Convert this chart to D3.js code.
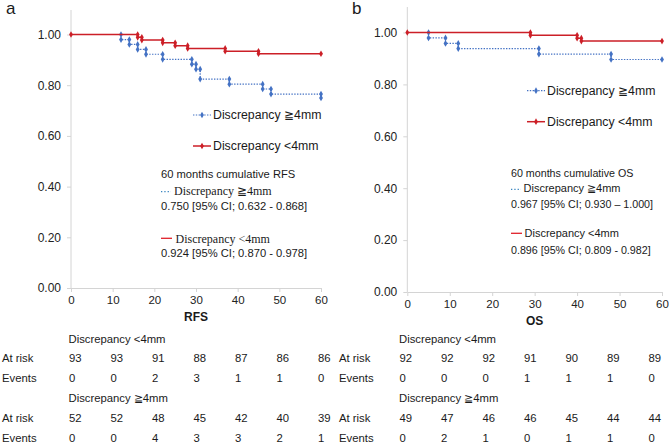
<!DOCTYPE html>
<html lang="en">
<head>
<meta charset="UTF-8">
<title>Kaplan-Meier RFS / OS</title>
<script src="https://d3js.org/d3.v7.min.js"></script>
<style>
  body { margin: 0; background: #fff; }
  svg { display: block; font-family: "Liberation Sans", Arial, sans-serif; }
  .axis path, .axis line { stroke: #d4d4d4; }
  .axis text { fill: #222; }
</style>
</head>
<body>
<div id="chart"></div>
<script>
// ---- data ----
const xTicks = [0, 10, 20, 30, 40, 50, 60];
const yTicks = [0, 0.2, 0.4, 0.6, 0.8, 1.0];

// RFS (panel a) step curves: event times (months) and survival after each step
const rfsLtTimes = [16, 17, 22, 25, 28, 37, 45];
const rfsLtSurv  = [0.989, 0.978, 0.967, 0.956, 0.945, 0.934, 0.924];
const rfsGeTimes = [12, 14, 16, 18, 22, 29, 30, 31, 38, 46, 48, 60];
const rfsGeSurv  = [0.980, 0.961, 0.941, 0.922, 0.902, 0.883, 0.863, 0.824, 0.804, 0.785, 0.765, 0.750];

// OS (panel b)
const osLtTimes = [29, 40, 41];
const osLtSurv  = [0.989, 0.978, 0.967];
const osGeTimes = [5, 9, 12, 31, 48];
const osGeSurv  = [0.979, 0.958, 0.938, 0.917, 0.896];

// numbers at risk / events tables
const rfsLtRisk = [93, 93, 91, 88, 87, 86, 86];
const rfsLtEvents = [0, 0, 2, 3, 1, 1, 0];
const rfsGeRisk = [52, 52, 48, 45, 42, 40, 39];
const rfsGeEvents = [0, 0, 4, 3, 3, 2, 1];
const osLtRisk = [92, 92, 92, 91, 90, 89, 89];
const osLtEvents = [0, 0, 0, 1, 1, 1, 0];
const osGeRisk = [49, 47, 46, 46, 45, 44, 44];
const osGeEvents = [0, 2, 1, 0, 1, 1, 0];

const RED = "#cc1f27";
const BLUE = "#4472c4";
const TEXT = "#1a1a1a";

const svg = d3.select("#chart").append("svg")
    .attr("width", 669).attr("height", 448);

// build step vertices; markers sit at both ends of every drop
function stepPoints(times, surv) {
    const pts = [{t: 0, s: 1}];
    let prev = 1;
    times.forEach((t, i) => {
        pts.push({t: t, s: prev});
        pts.push({t: t, s: surv[i]});
        prev = surv[i];
    });
    if (times[times.length - 1] < 60) pts.push({t: 60, s: prev});
    return pts;
}

function drawPanel(cfg) {
    const g = svg.append("g");
    const x = d3.scaleLinear().domain([0, 60]).range([cfg.x0, cfg.x1]);
    const y = d3.scaleLinear().domain([0, 1]).range([cfg.yBottom, cfg.yTop]);

    // panel letter
    g.append("text").attr("x", cfg.letterX).attr("y", 13.5)
        .attr("font-size", 17).attr("fill", TEXT).text(cfg.letter);

    // y axis
    const yAxis = g.append("g").attr("class", "axis")
        .attr("transform", `translate(${cfg.x0},0)`)
        .call(d3.axisLeft(y).tickValues(yTicks).tickFormat(d3.format(".2f"))
            .tickSize(4).tickPadding(6));
    yAxis.select(".domain").remove();
    yAxis.append("line").attr("x1", 0).attr("x2", 0)
        .attr("y1", cfg.axisTop).attr("y2", cfg.yBottom).attr("stroke", "#d4d4d4");
    yAxis.selectAll("text").attr("font-size", 12);

    // x axis
    const xAxis = g.append("g").attr("class", "axis")
        .attr("transform", `translate(0,${cfg.yBottom})`)
        .call(d3.axisBottom(x).tickValues(xTicks).tickSize(4).tickPadding(4)
            .tickSizeOuter(0));
    xAxis.selectAll("text").attr("font-size", 11.5);

    g.append("text").attr("x", (cfg.x0 + cfg.x1) / 2).attr("y", cfg.titleY)
        .attr("text-anchor", "middle").attr("font-weight", "bold")
        .attr("font-size", 12).attr("fill", TEXT).text(cfg.title);

    const line = d3.line().x(d => x(d.t)).y(d => y(d.s));
    const diamond = d3.symbol(d3.symbolDiamond).size(13);

    // >=4mm (blue dotted) drawn first, <4mm red on top
    const ge = stepPoints(cfg.geTimes, cfg.geSurv);
    g.append("path").datum(ge).attr("d", line).attr("fill", "none")
        .attr("stroke", BLUE).attr("stroke-width", 1.2).attr("stroke-dasharray", "1.4,1.4");
    g.selectAll(".mge").data(ge.filter(d => d.t > 0)).enter().append("path")
        .attr("d", diamond).attr("fill", BLUE)
        .attr("transform", d => `translate(${x(d.t)},${y(d.s)})`);

    const lt = stepPoints(cfg.ltTimes, cfg.ltSurv);
    g.append("path").datum(lt).attr("d", line).attr("fill", "none")
        .attr("stroke", RED).attr("stroke-width", 1.5);
    g.selectAll(".mlt").data(lt).enter().append("path")
        .attr("d", diamond).attr("fill", RED)
        .attr("transform", d => `translate(${x(d.t)},${y(d.s)})`);

    // in-plot legend
    const L = cfg.legend;
    [[BLUE, "1.4,1.4", L.y1, "Discrepancy \u22674mm"], [RED, null, L.y2, "Discrepancy <4mm"]]
        .forEach(([c, dash, ly, label]) => {
            g.append("line").attr("x1", L.x).attr("x2", L.x + 18)
                .attr("y1", ly).attr("y2", ly).attr("stroke", c)
                .attr("stroke-width", dash ? 1.2 : 1.5).attr("stroke-dasharray", dash);
            g.append("path").attr("d", diamond).attr("fill", c)
                .attr("transform", `translate(${L.x + 9},${ly})`);
            g.append("text").attr("x", L.x + 20).attr("y", ly).attr("dy", "0.35em")
                .attr("font-size", 12.3).attr("fill", TEXT).text(label);
        });

    // cumulative annotation
    const A = cfg.annot;
    const at = (yy, txt, xx, fam, fs) => g.append("text").attr("x", xx).attr("y", yy)
        .attr("dy", "0.35em").attr("font-size", fs).attr("fill", TEXT)
        .attr("font-family", fam).text(txt);
    at(A.rows[0], A.head, A.x, null, A.fs);
    g.append("line").attr("x1", A.x).attr("x2", A.x + 10).attr("y1", A.rows[1] + 1).attr("y2", A.rows[1] + 1)
        .attr("stroke", "#3a86c0").attr("stroke-width", 1.3).attr("stroke-dasharray", "1.3,2");
    at(A.rows[1], "Discrepancy \u2267" + "4mm", A.x + A.indent, A.fam, A.fs2);
    at(A.rows[2], A.geVal, A.x, null, A.fs);
    g.append("line").attr("x1", A.x).attr("x2", A.x + 11).attr("y1", A.rows[3]).attr("y2", A.rows[3])
        .attr("stroke", "#e0202a").attr("stroke-width", 1.3);
    at(A.rows[3], "Discrepancy <4mm", A.x + A.indent2, A.fam, A.fs2);
    at(A.rows[4], A.ltVal, A.x, null, A.fs);

    // at-risk table: columns follow the time ticks, left-aligned
    const T = cfg.table;
    const col = d3.scaleLinear().domain([0, 60]).range([T.colStart, T.colStart + 249]);
    const rows = [
        {head: "Discrepancy <4mm", y: T.rows[0]},
        {label: "At risk", vals: cfg.ltRisk, y: T.rows[1]},
        {label: "Events", vals: cfg.ltEvents, y: T.rows[2]},
        {head: "Discrepancy \u2267" + "4mm", y: T.rows[3]},
        {label: "At risk", vals: cfg.geRisk, y: T.rows[4]},
        {label: "Events", vals: cfg.geEvents, y: T.rows[5]}
    ];
    rows.forEach(r => {
        if (r.head) {
            g.append("text").attr("x", T.colStart - 0.5).attr("y", r.y).attr("dy", "0.35em")
                .attr("font-size", 11.3).attr("fill", TEXT).text(r.head);
        } else {
            g.append("text").attr("x", T.labelX).attr("y", r.y).attr("dy", "0.35em")
                .attr("font-size", 11.3).attr("fill", TEXT).text(r.label);
            g.selectAll(null).data(r.vals).enter().append("text")
                .attr("x", (d, i) => col(xTicks[i])).attr("y", r.y).attr("dy", "0.35em")
                .attr("font-size", 11.3).attr("fill", TEXT).text(d => d);
        }
    });
}

const tableRows = [339, 358.5, 378.5, 398.5, 418.5, 438.5];

drawPanel({
    letter: "a", letterX: 6, title: "RFS", titleY: 321,
    x0: 71, x1: 321, yTop: 34.5, yBottom: 288, axisTop: 10,
    ltTimes: rfsLtTimes, ltSurv: rfsLtSurv, geTimes: rfsGeTimes, geSurv: rfsGeSurv,
    legend: {x: 193, y1: 115, y2: 146},
    annot: {x: 161, rows: [174.3, 190.7, 206, 238.3, 253.3], head: "60 months cumulative RFS",
        geVal: "0.750 [95% CI; 0.632 - 0.868]", ltVal: "0.924 [95% CI; 0.870 - 0.978]",
        fam: "Liberation Serif, Times New Roman, serif", fs: 11.2, fs2: 12, indent: 13, indent2: 14.5},
    table: {labelX: 2, colStart: 69, rows: tableRows},
    ltRisk: rfsLtRisk, ltEvents: rfsLtEvents, geRisk: rfsGeRisk, geEvents: rfsGeEvents
});

drawPanel({
    letter: "b", letterX: 352, title: "OS", titleY: 325,
    x0: 407.3, x1: 662, yTop: 32.5, yBottom: 292, axisTop: 7,
    ltTimes: osLtTimes, ltSurv: osLtSurv, geTimes: osGeTimes, geSurv: osGeSurv,
    legend: {x: 527, y1: 90.7, y2: 121.7},
    annot: {x: 511, rows: [173.3, 188.3, 204.3, 233.3, 250], head: "60 months cumulative OS",
        geVal: "0.967 [95% CI; 0.930 \u2013 1.000]", ltVal: "0.896 [95% CI; 0.809 - 0.982]",
        fam: null, fs: 10.7, fs2: 11, indent: 12.5, indent2: 13.5},
    table: {labelX: 339, colStart: 399.5, rows: tableRows},
    ltRisk: osLtRisk, ltEvents: osLtEvents, geRisk: osGeRisk, geEvents: osGeEvents
});
</script>
</body>
</html>
